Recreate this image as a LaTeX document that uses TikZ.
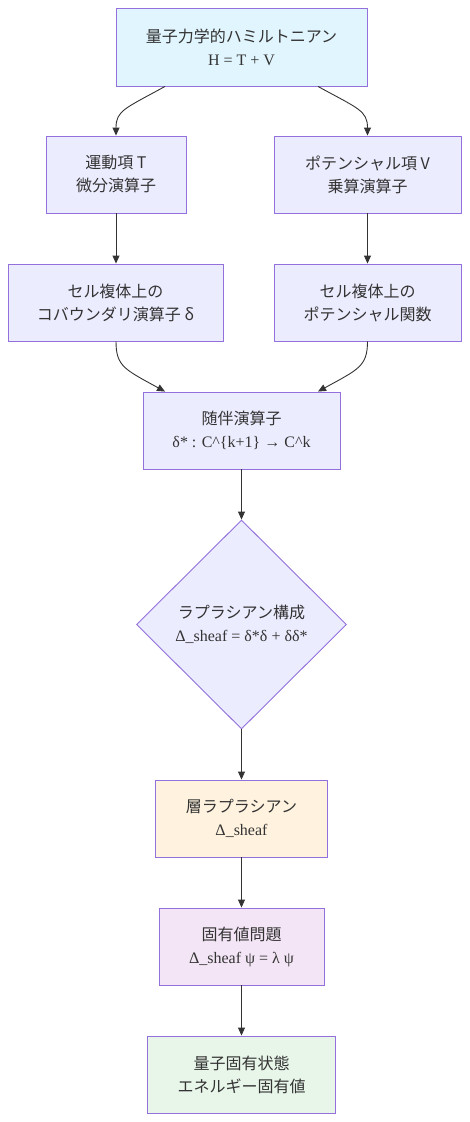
\documentclass[tikz,border=0pt]{standalone}
\usepackage{fontspec}
\setmainfont{Liberation Serif}
\newfontfamily\cjk{Noto Sans CJK JP}
\usetikzlibrary{shapes.geometric,arrows.meta}
\definecolor{bd}{HTML}{9370DB}
\definecolor{fl}{HTML}{ECECFF}
\definecolor{tx}{HTML}{333333}
\definecolor{lnc}{HTML}{333333}
\definecolor{fblue}{HTML}{E1F5FE}
\definecolor{forange}{HTML}{FFF3E0}
\definecolor{fpurple}{HTML}{F3E5F5}
\definecolor{fgreen}{HTML}{E8F5E9}
\tikzset{
  box/.style={draw=bd, fill=fl, line width=0.9pt, text=tx, align=center, inner sep=0pt,
    font=\fontsize{16}{23}\selectfont},
  txt/.style={text=tx, align=center, inner sep=0pt, font=\fontsize{16}{23}\selectfont},
  arr/.style={draw=lnc, line width=0.9pt, -{Triangle[length=8pt,width=7pt]}}
}
\begin{document}
\begin{tikzpicture}[x=1pt,y=-1pt]
\useasboundingbox (0,0) rectangle (470,1122);
\node[box, fill=fblue, minimum width=251pt, minimum height=78pt] (ham) at (241.5,47)
  {\cjk{量子力学的ハミルトニアン}\\H = T + V};
\node[box, minimum width=140pt, minimum height=77pt] (kin) at (116,174.5)
  {\cjk{運動項} T\\\cjk{微分演算子}};
\node[box, minimum width=187pt, minimum height=77pt] (pot) at (367.5,174.5)
  {\cjk{ポテンシャル項} V\\\cjk{乗算演算子}};
\node[box, minimum width=215pt, minimum height=77pt] (cob) at (115.5,302.5)
  {\cjk{セル複体上の}\\\cjk{コバウンダリ演算子} δ};
\node[box, minimum width=187pt, minimum height=77pt] (potf) at (367.5,302.5)
  {\cjk{セル複体上の}\\\cjk{ポテンシャル関数}};
\node[box, minimum width=197pt, minimum height=77pt] (adj) at (241.5,430.5)
  {\cjk{随伴演算子}\\δ* : C\textasciicircum\{k+1\} → C\textasciicircum k};
\node[draw=bd, fill=fl, line width=0.9pt, diamond, inner sep=0pt, minimum width=210pt, minimum height=209pt] (lap) at (241.5,624.5) {};
\node[txt] (laptxt) at (lap.center) {\cjk{ラプラシアン構成}\\Δ\_sheaf = δ*δ + δδ*};
\node[box, fill=forange, minimum width=172pt, minimum height=77pt] (sheaf) at (241.5,818.5)
  {\cjk{層ラプラシアン}\\Δ\_sheaf};
\node[box, fill=fpurple, minimum width=165pt, minimum height=77pt] (eig) at (241.5,946.5)
  {\cjk{固有値問題}\\Δ\_sheaf ψ = λ ψ};
\node[box, fill=fgreen, minimum width=188pt, minimum height=77pt] (qs) at (241.5,1074.5)
  {\cjk{量子固有状態}\\\cjk{エネルギー固有値}};
\draw[arr] ([xshift=-76.5pt]ham.south) .. controls +(-40,22) and +(0,-25) .. (kin.north);
\draw[arr] ([xshift=76.5pt]ham.south) .. controls +(40,22) and +(0,-25) .. (pot.north);
\draw[arr] (kin.south) -- (kin.south |- cob.north);
\draw[arr] (pot.south) -- (potf.north);
\draw[arr] (cob.south -| kin.south) .. controls +(0,25) and +(-40,-22) .. ([xshift=-76.5pt]adj.north);
\draw[arr] (potf.south) .. controls +(0,25) and +(40,-22) .. ([xshift=76.5pt]adj.north);
\draw[arr] (adj.south) -- (lap.north);
\draw[arr] (lap.south) -- (sheaf.north);
\draw[arr] (sheaf.south) -- (eig.north);
\draw[arr] (eig.south) -- (qs.north);
\end{tikzpicture}
\end{document}
